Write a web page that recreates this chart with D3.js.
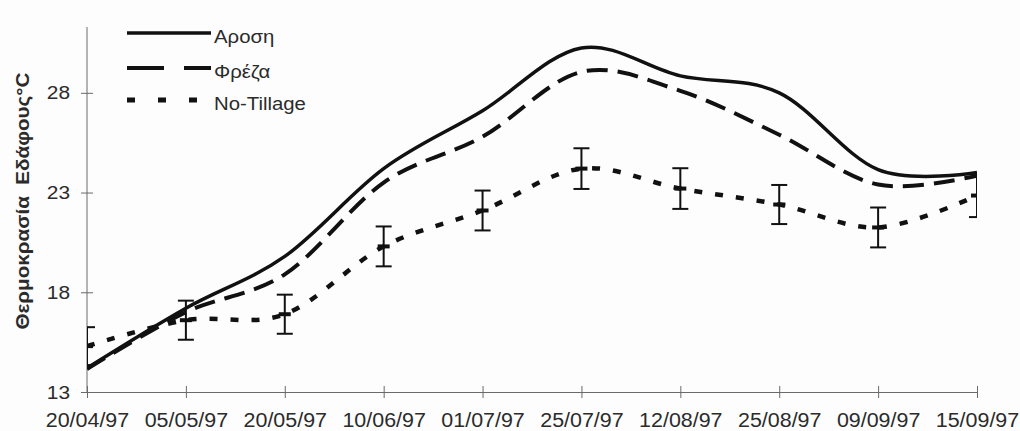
<!DOCTYPE html>
<html>
<head>
<meta charset="utf-8">
<script src="https://cdnjs.cloudflare.com/ajax/libs/d3/7.8.5/d3.min.js"></script>
<style>
  html, body { margin: 0; padding: 0; background: #fdfdfd; }
  svg { display: block; }
  text { font-family: "Liberation Sans", Arial, sans-serif; fill: #2b2b2b; }
</style>
</head>
<body>
<svg id="chart" width="1020" height="431"></svg>
<script>
// Sampling dates (category axis)
const dates = ["20/04/97", "05/05/97", "20/05/97", "10/06/97", "01/07/97",
               "25/07/97", "12/08/97", "25/08/97", "09/09/97", "15/09/97"];

// Soil temperature (°C) per tillage treatment
const arosi     = [14.2, 17.2, 19.8, 24.2, 27.1, 30.25, 28.85, 28.0, 24.15, 24.0];
const freza     = [14.15, 17.0, 18.9, 23.5, 25.8, 29.05, 28.1, 25.9, 23.4, 23.85];
const noTillage = [15.3, 16.6, 16.9, 20.3, 22.1, 24.2, 23.2, 22.4, 21.25, 22.85];
const noTillErr = [0.95, 0.98, 0.98, 1.0, 1.0, 1.02, 1.02, 0.98, 1.0, 1.08];

const yTicks = [13, 18, 23, 28];
const yLabel = "Θερμοκρασία  Εδάφους°C";
const seriesNames = ["Αροση", "Φρέζα", "No-Tillage"];

const svg = d3.select("#chart");
const plotL = 87, plotR = 977, plotT = 27, plotB = 392;
const sx = 1.1; // horizontal stretch of the lettering

const x = d3.scalePoint().domain(dates).range([plotL, plotR]);
const y = d3.scaleLinear().domain([13, 31.3]).range([plotB, plotT]);

svg.append("defs").append("clipPath").attr("id", "plot")
  .append("rect").attr("x", plotL).attr("y", 0).attr("width", plotR - plotL).attr("height", 431);

// Axes
const yAxis = svg.append("g").attr("transform", `translate(${plotL},0)`)
  .call(d3.axisLeft(y).tickValues(yTicks).tickSizeInner(6).tickSizeOuter(0).tickPadding(11).tickFormat(d3.format("d")));
yAxis.select(".domain").attr("stroke", "#6a6a6a").attr("d", `M0,${plotT}V${plotB}`);
yAxis.selectAll(".tick line").attr("x1", 6).attr("stroke", "#6a6a6a");
yAxis.selectAll(".tick text").attr("font-size", 19).attr("fill", "#2b2b2b")
  .attr("transform", `scale(${sx},1)`).attr("x", -17 / sx);

const xAxis = svg.append("g").attr("transform", `translate(0,${plotB})`)
  .call(d3.axisBottom(x).tickSizeInner(6).tickSizeOuter(0).tickPadding(15));
xAxis.select(".domain").attr("stroke", "#6a6a6a");
xAxis.selectAll(".tick line").attr("y1", -6).attr("stroke", "#6a6a6a");
xAxis.selectAll(".tick text").attr("font-size", 19.5).attr("fill", "#2b2b2b")
  .attr("transform", `scale(${sx},1)`);

// Y-axis title
svg.append("text")
  .attr("transform", "translate(29,201) rotate(-90)")
  .attr("text-anchor", "middle")
  .attr("font-size", 19)
  .attr("font-weight", "bold")
  .attr("fill", "#2b2b2b")
  .attr("textLength", 257)
  .attr("lengthAdjust", "spacingAndGlyphs")
  .style("white-space", "pre")
  .text(yLabel);

// Smoothed series lines
const line = d3.line()
  .x((d, i) => x(dates[i]))
  .y(d => y(d))
  .curve(d3.curveCardinal.tension(0));

const plot = svg.append("g").attr("clip-path", "url(#plot)");

// Error bars for No-Tillage
const eb = plot.append("g").attr("stroke", "#111").attr("stroke-width", 2);
noTillage.forEach((v, i) => {
  const cx = x(dates[i]);
  const y0 = y(v - noTillErr[i]), y1 = y(v + noTillErr[i]);
  eb.append("line").attr("x1", cx).attr("x2", cx).attr("y1", y0).attr("y2", y1);
  eb.append("line").attr("x1", cx - 8).attr("x2", cx + 8).attr("y1", y0).attr("y2", y0);
  eb.append("line").attr("x1", cx - 8).attr("x2", cx + 8).attr("y1", y1).attr("y2", y1);
  eb.append("line").attr("x1", cx - 6).attr("x2", cx + 6).attr("y1", y(v)).attr("y2", y(v))
    .attr("stroke-width", 4);
});

plot.append("path").datum(noTillage).attr("d", line)
  .attr("fill", "none").attr("stroke", "#111").attr("stroke-width", 4.5)
  .attr("stroke-dasharray", "8,13");
plot.append("path").datum(freza).attr("d", line)
  .attr("fill", "none").attr("stroke", "#111").attr("stroke-width", 4)
  .attr("stroke-dasharray", "21,10");
plot.append("path").datum(arosi).attr("d", line)
  .attr("fill", "none").attr("stroke", "#111").attr("stroke-width", 3.5);

// Legend
const legendRows = [
  { name: seriesNames[0], y: 33, dash: null, w: 3.5 },
  { name: seriesNames[1], y: 68, dash: "37,20", w: 4 },
  { name: seriesNames[2], y: 100, dash: "8,23", w: 5 }
];
const lg = svg.append("g");
legendRows.forEach(r => {
  lg.append("line").attr("x1", 127).attr("x2", 211).attr("y1", r.y).attr("y2", r.y)
    .attr("stroke", "#111").attr("stroke-width", r.w)
    .attr("stroke-dasharray", r.dash);
  lg.append("text").attr("x", 214 / sx).attr("y", r.y + 10.5)
    .attr("transform", `scale(${sx},1)`)
    .attr("font-size", 18.5).attr("fill", "#2b2b2b").text(r.name);
});
</script>
</body>
</html>
